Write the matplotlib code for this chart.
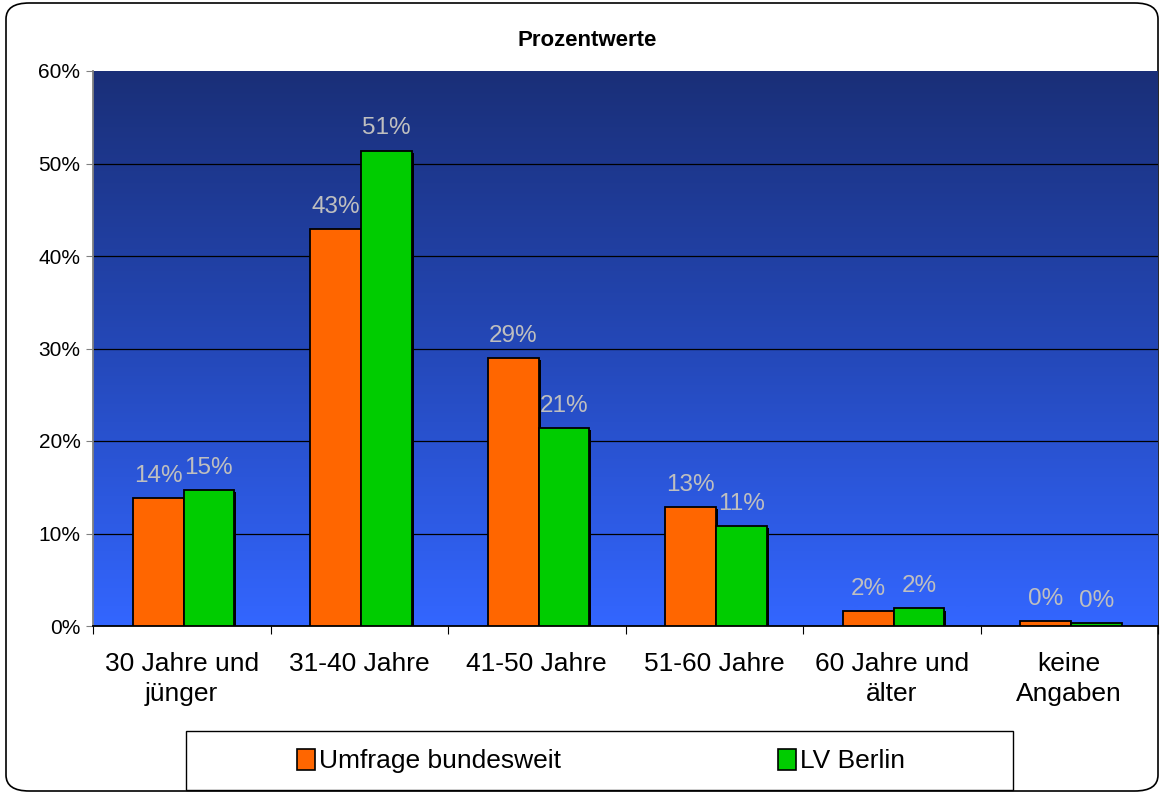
import numpy as np
import matplotlib
matplotlib.use("Agg")
import matplotlib.pyplot as plt
from matplotlib.patches import FancyBboxPatch, Rectangle, Patch
from matplotlib.colors import LinearSegmentedColormap
from matplotlib.ticker import PercentFormatter

plt.rcParams['font.family'] = ['Liberation Sans', 'DejaVu Sans']

categories = ["30 Jahre und\njünger", "31-40 Jahre", "41-50 Jahre", "51-60 Jahre",
              "60 Jahre und\nälter", "keine\nAngaben"]
series_names = ["Umfrage bundesweit", "LV Berlin"]
umfrage = [13.8, 42.9, 29.0, 12.9, 1.6, 0.5]
berlin = [14.7, 51.4, 21.4, 10.8, 1.9, 0.3]
labels_umfrage = ["14%", "43%", "29%", "13%", "2%", "0%"]
labels_berlin = ["15%", "51%", "21%", "11%", "2%", "0%"]
colors = ["#FF6600", "#00CC00"]

W, H = 1164, 796
fig = plt.figure(figsize=(W / 100, H / 100), dpi=100)

# outer rounded border
border = FancyBboxPatch((6 / W, 5 / H), (W - 12) / W, (H - 8) / H,
                        boxstyle="round,pad=0,rounding_size=0.02",
                        transform=fig.transFigure, facecolor="white",
                        edgecolor="black", linewidth=1.2, zorder=-10)
fig.patches.append(border)

ax = fig.add_axes([93 / W, (H - 626) / H, (1158 - 93) / W, 555 / H])
ax.set_xlim(0, 6)
ax.set_ylim(0, 60)

# gradient background
cmap = LinearSegmentedColormap.from_list("bg", ["#3366FF", "#2448B8", "#1A2F78"])
grad = np.linspace(0, 1, 256).reshape(-1, 1)
ax.imshow(grad, aspect="auto", cmap=cmap, origin="lower",
          extent=[0, 6, 0, 60], zorder=0)

# grid
for yv in range(10, 60, 10):
    ax.axhline(yv, color="black", linewidth=0.9, zorder=1)

x = np.arange(len(categories)) + 0.5
bw = 0.285
off = 0.01
sdx, sdy = 0.012, -0.25
for vals, labs, col, sign in [(umfrage, labels_umfrage, colors[0], -1),
                              (berlin, labels_berlin, colors[1], 1)]:
    xs = x + sign * bw / 2 + off
    # shadow
    ax.bar(xs + sdx, vals, bw, bottom=sdy, color="black", zorder=2, linewidth=0)
    ax.bar(xs, vals, bw, color=col, edgecolor="black", linewidth=1.3, zorder=3)
    for xi, v, lab in zip(xs, vals, labs):
        ax.annotate(lab, (xi, v), xytext=(0, 8), textcoords="offset points",
                    ha="center", va="bottom", color="#BFBFBF", fontsize=17.5, zorder=4)

ax.set_xticks(np.arange(0, 7))
ax.set_xticklabels([])
ax.set_xticks(x, minor=True)
ax.set_xticklabels(categories, minor=True, fontsize=19, linespacing=1.3)
ax.tick_params(axis="x", which="minor", length=0, pad=19)
ax.tick_params(axis="x", which="major", length=6, direction="out", color="black")
ax.set_yticks(range(0, 61, 10))
ax.yaxis.set_major_formatter(PercentFormatter(decimals=0))
ax.tick_params(axis="y", length=5, direction="out", color="#808080", labelsize=15, pad=4)
for sp in ["top", "right"]:
    ax.spines[sp].set_visible(False)
ax.spines["left"].set_color("#808080")
ax.spines["left"].set_linewidth(1.3)
ax.spines["bottom"].set_color("black")
ax.spines["bottom"].set_linewidth(1.3)

fig.text(587 / W, 1 - 40 / H, "Prozentwerte", ha="center", va="center",
         fontsize=16, fontweight="bold")

# legend box
fig.patches.append(Rectangle((186 / W, 1 - 790 / H), (1013 - 186) / W, (790 - 731) / H,
                             transform=fig.transFigure, facecolor="white",
                             edgecolor="black", linewidth=1.0, zorder=5))
handles = [Patch(facecolor=c, edgecolor="black", linewidth=1.2) for c in colors]
leg = fig.legend(handles, series_names, loc="center",
                 bbox_to_anchor=(601 / W, 1 - 761 / H),
                 ncol=2, fontsize=19, frameon=False,
                 handlelength=0.7, handleheight=0.85, handletextpad=0.15,
                 columnspacing=8.2, borderpad=0.0)
leg.set_zorder(6)

fig.savefig("out.png", dpi=100)
